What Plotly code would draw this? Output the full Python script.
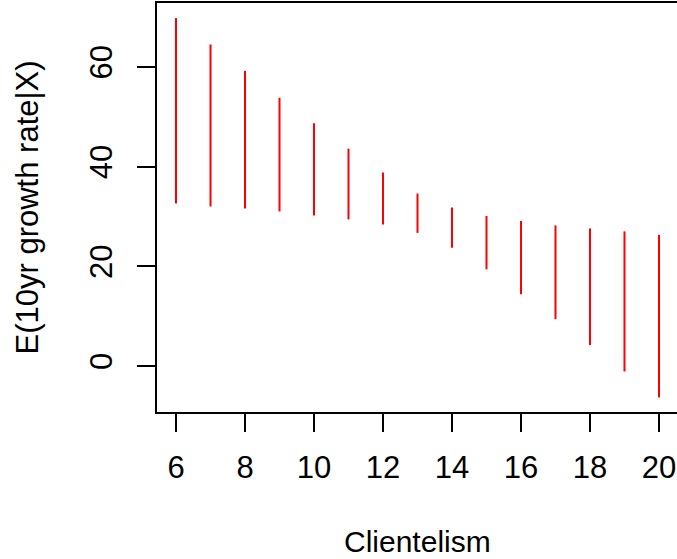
import plotly.graph_objects as go

# Data
clientelism = [6, 7, 8, 9, 10, 11, 12, 13, 14, 15, 16, 17, 18, 19, 20]
lower = [32.6, 32.0, 31.6, 31.0, 30.2, 29.4, 28.4, 26.7, 23.7, 19.4, 14.4, 9.4, 4.2, -1.1, -6.3]
upper = [69.8, 64.5, 59.2, 53.8, 48.7, 43.6, 38.8, 34.6, 31.8, 30.1, 29.1, 28.2, 27.6, 27.0, 26.3]
x_ticks = [6, 8, 10, 12, 14, 16, 18, 20]
y_ticks = [0, 20, 40, 60]

xs, ys = [], []
for x, lo, hi in zip(clientelism, lower, upper):
    xs += [x, x, None]
    ys += [lo, hi, None]

FONT = "Liberation Sans, Arial, Helvetica, sans-serif"

fig = go.Figure()
fig.add_trace(go.Scatter(x=xs, y=ys, mode="lines",
                         line=dict(color="#ff0000", width=2),
                         hoverinfo="skip", showlegend=False))

fig.update_layout(
    width=677, height=559,
    margin=dict(l=157, r=0, t=3, b=147),
    paper_bgcolor="white", plot_bgcolor="white",
    font=dict(family=FONT, size=31, color="black"),
    xaxis=dict(range=[5.449, 20.522], tickmode="array", tickvals=x_ticks,
               ticks="outside", ticklen=18, tickwidth=2, tickcolor="black",
               showline=True, linecolor="black", linewidth=2, mirror=True,
               showgrid=False, zeroline=False, ticklabelstandoff=9,
               tickfont=dict(size=31)),
    yaxis=dict(range=[-9.23, 72.82], tickmode="array", tickvals=y_ticks,
               ticks="outside", ticklen=18, tickwidth=2, tickcolor="black",
               showline=True, linecolor="black", linewidth=2,
               showgrid=False, zeroline=False, tickangle=-90,
               ticklabelstandoff=13, tickfont=dict(size=31)),
    annotations=[
        dict(text="Clientelism", xref="paper", yref="paper", x=0.5, y=-0.317,
             xanchor="center", yanchor="middle", showarrow=False,
             font=dict(size=30)),
        dict(text="E(10yr growth rate|X)", xref="paper", yref="paper",
             x=-0.25, y=0.5, xanchor="center", yanchor="middle",
             textangle=-90, showarrow=False, font=dict(size=31)),
    ],
)

fig.write_html("out.html")
